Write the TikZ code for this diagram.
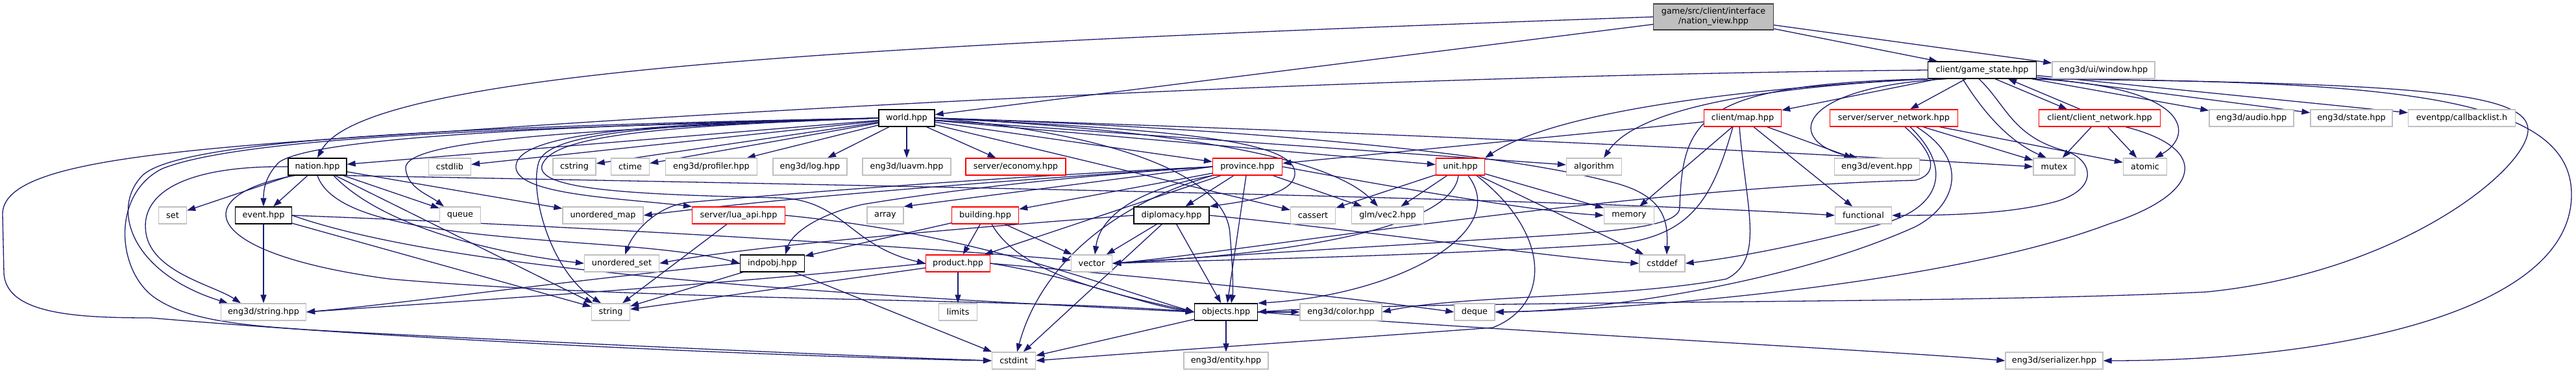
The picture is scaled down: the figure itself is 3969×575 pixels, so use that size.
\documentclass[tikz,border=0pt]{standalone}
\usepackage{fontspec}
\newfontfamily\dvs{DejaVu Sans}
\usetikzlibrary{arrows.meta}
\pgfdeclarelayer{bg}
\pgfsetlayers{bg,main}
\definecolor{edgec}{RGB}{25,25,112}
\definecolor{extg}{RGB}{191,191,191}
\definecolor{rootf}{RGB}{191,191,191}
\definecolor{rootd}{RGB}{64,64,64}
\begin{document}
\begin{tikzpicture}[x=1pt,y=-1pt,
 base/.style={rectangle, fill=white, line width=1.3pt, minimum height=26pt, inner sep=0pt, font=\dvs\fontsize{12.8pt}{15pt}\selectfont},
 ext/.style={base, draw=extg},
 doc/.style={base, draw=black},
 trc/.style={base, draw=red},
 rt/.style={base, draw=rootd, fill=rootf, minimum height=40pt, align=center},
 e/.style={draw=edgec, line width=1.3pt, -{Triangle[length=13pt,width=9pt]}}]
\path[use as bounding box] (0,0) rectangle (3969,575);
% nodes
\node[rt, minimum width=185pt] (root) at (2640,26) {game/src/client/interface\\/nation\_view.hpp};
\node[doc, minimum width=167pt] (gs) at (3054,108) {client/game\_state.hpp};
\node[ext, minimum width=158pt] (win) at (3241,108) {eng3d/ui/window.hpp};
\node[doc, minimum width=86pt] (world) at (1397,182) {world.hpp};
\node[trc, minimum width=119pt] (map) at (2685,182) {client/map.hpp};
\node[trc, minimum width=197pt] (snet) at (2918,182) {server/server\_network.hpp};
\node[trc, minimum width=187pt] (cnet) at (3235,182) {client/client\_network.hpp};
\node[ext, minimum width=130pt] (audio) at (3469,182) {eng3d/audio.hpp};
\node[ext, minimum width=126pt] (state) at (3623,182) {eng3d/state.hpp};
\node[ext, minimum width=165pt] (cbl) at (3793,182) {eventpp/callbacklist.h};
\node[doc, minimum width=90pt] (nation) at (489,257) {nation.hpp};
\node[ext, minimum width=65pt] (cstdlib) at (693,257) {cstdlib};
\node[ext, minimum width=66pt] (cstring) at (885,257) {cstring};
\node[ext, minimum width=59pt] (ctime) at (971,257) {ctime};
\node[ext, minimum width=141pt] (prof) at (1096,257) {eng3d/profiler.hpp};
\node[ext, minimum width=114pt] (log) at (1248,257) {eng3d/log.hpp};
\node[ext, minimum width=136pt] (luavm) at (1397,257) {eng3d/luavm.hpp};
\node[trc, minimum width=154pt] (econ) at (1565,257) {server/economy.hpp};
\node[trc, minimum width=107pt] (prov) at (1922,257) {province.hpp};
\node[trc, minimum width=75pt] (unit) at (2250,257) {unit.hpp};
\node[ext, minimum width=85pt] (algo) at (2456,257) {algorithm};
\node[ext, minimum width=131pt] (eevent) at (2892,257) {eng3d/event.hpp};
\node[ext, minimum width=64pt] (mutex) at (3165,257) {mutex};
\node[ext, minimum width=67pt] (atomic) at (3305,257) {atomic};
\node[ext, minimum width=43pt] (set) at (266,332) {set};
\node[doc, minimum width=87pt] (event) at (406,332) {event.hpp};
\node[ext, minimum width=63pt] (queue) at (709,332) {queue};
\node[ext, minimum width=124pt] (umap) at (929,332) {unordered\_map};
\node[trc, minimum width=143pt] (lua) at (1138,332) {server/lua\_api.hpp};
\node[ext, minimum width=56pt] (array) at (1364,332) {array};
\node[trc, minimum width=103pt] (bld) at (1518,332) {building.hpp};
\node[doc, minimum width=116pt] (dipl) at (1805,332) {diplomacy.hpp};
\node[ext, minimum width=69pt] (cassert) at (2023,332) {cassert};
\node[ext, minimum width=111pt] (vec2) at (2138,332) {glm/vec2.hpp};
\node[ext, minimum width=77pt] (memory) at (2510,332) {memory};
\node[ext, minimum width=87pt] (func) at (2871,332) {functional};
\node[ext, minimum width=115pt] (uset) at (958,406) {unordered\_set};
\node[doc, minimum width=99pt] (indp) at (1190,406) {indpobj.hpp};
\node[trc, minimum width=99pt] (prod) at (1476,406) {product.hpp};
\node[ext, minimum width=63pt] (vector) at (1682,406) {vector};
\node[ext, minimum width=70pt] (cstddef) at (2561,406) {cstddef};
\node[ext, minimum width=131pt] (estr) at (406,481) {eng3d/string.hpp};
\node[ext, minimum width=59pt] (string) at (941,481) {string};
\node[ext, minimum width=59pt] (limits) at (1476,481) {limits};
\node[doc, minimum width=97pt] (obj) at (1889,481) {objects.hpp};
\node[ext, minimum width=126pt] (color) at (2066,481) {eng3d/color.hpp};
\node[ext, minimum width=62pt] (deque) at (2272,481) {deque};
\node[ext, minimum width=67pt] (cstdint) at (1562,556) {cstdint};
\node[ext, minimum width=130pt] (entity) at (1889,556) {eng3d/entity.hpp};
\node[ext, minimum width=150pt] (ser) at (3165,556) {eng3d/serializer.hpp};
\begin{pgfonlayer}{bg}
% root
\draw[e] (root) -- (gs);
\draw[e] (root) -- (win);
\draw[e] (root) -- (world);
\draw[e] (root.west) .. controls (1300,70) and (560,110) .. (nation.north);
% game_state
\draw[e] (gs) -- (map);
\draw[e] (gs) -- (snet);
\draw[e] ([xshift=20pt]gs.south) -- ([xshift=-50pt]cnet.north);
\draw[e] ([xshift=-30pt]cnet.north) -- ([xshift=40pt]gs.south);
\draw[e] ([xshift=-55pt]gs.south) .. controls (2760,135) and (2750,220) .. ([xshift=-30pt]eevent.north);
\draw[e] ([xshift=-30pt]gs.south) .. controls (3060,180) and (3100,220) .. ([xshift=-12pt]mutex.north);
\draw[e] ([xshift=-5pt]gs.south) .. controls (3090,160) and (3100,210) .. (3180,232) .. controls (3225,245) and (3235,290) .. (3170,310) .. controls (3100,330) and (3000,332) .. (func.east);
\draw[e] (gs.south east) .. controls (3380,135) and (3380,210) .. ([xshift=15pt]atomic.north);
\draw[e] (gs) -- (audio);
\draw[e] (gs) -- (state);
\draw[e] (gs) -- (cbl);
\draw[e] (gs.south west) .. controls (2700,135) and (2400,170) .. (unit.north east);
\draw[e] (gs.south west) .. controls (2700,135) and (2520,170) .. ([xshift=15pt]algo.north);
\draw[e] (gs.south west) .. controls (2620,130) and (2592,180) .. (2588,320) .. controls (2588,360) and (2400,360) .. (2200,375) .. controls (1950,390) and (1800,400) .. (vector.east);
\draw[e] (gs.west) .. controls (2200,115) and (1300,160) .. (700,202) .. controls (250,230) and (4,250) .. (4,330) -- (6,420) .. controls (8,485) and (120,490) .. (232,490) .. controls (700,530) and (1300,552) .. (cstdint.west);
\draw[e] (gs.south east) .. controls (3700,125) and (3962,150) .. (3962,300) .. controls (3962,480) and (3600,556) .. (ser.east);
\draw[e] (gs.south east) .. controls (3700,128) and (3895,140) .. (3895,200) .. controls (3895,260) and (3700,420) .. (3400,450) .. controls (3000,470) and (2200,462) .. (obj.east);
% client network
\draw[e] (cnet) -- (mutex);
\draw[e] (cnet) -- (atomic);
\draw[e] ([xshift=40pt]cnet.south) .. controls (3410,230) and (3390,300) .. (3250,345) .. controls (3000,440) and (2500,478) .. (deque.east);
% server network
\draw[e] (snet) -- (mutex);
\draw[e] (snet) -- (atomic);
\draw[e] ([xshift=17pt]snet.south) .. controls (2985,240) and (2985,270) .. (2950,278) .. controls (2500,290) and (1900,390) .. (vector.east);
\draw[e] ([xshift=25pt]snet.south) .. controls (3010,260) and (2990,320) .. (2900,345) .. controls (2750,385) and (2650,400) .. (cstddef.east);
\draw[e] ([xshift=35pt]snet.south) .. controls (3040,250) and (3010,320) .. (2950,350) .. controls (2750,440) and (2450,480) .. (deque.east);
% map
\draw[e] (map) -- (prov);
\draw[e] (map) -- (memory);
\draw[e] (map) -- (eevent);
\draw[e] (map) -- (func);
\draw[e] ([xshift=-5pt]map.south) .. controls (2690,320) and (2720,400) .. (2660,430) .. controls (2500,460) and (2250,455) .. (color.east);
\draw[e] ([xshift=-15pt]map.south) .. controls (2640,300) and (2610,360) .. (2500,375) .. controls (2200,395) and (1900,400) .. (vector.east);
% world
\draw[e] (world) -- (nation);
\draw[e] (world) -- (cstdlib);
\draw[e] (world) -- (cstring);
\draw[e] (world) -- (ctime);
\draw[e] (world) -- (prof);
\draw[e] (world) -- (log);
\draw[e] (world) -- (luavm);
\draw[e] (world) -- (econ);
\draw[e] (world.west) .. controls (800,195) and (480,215) .. (430,250) .. controls (410,270) and (406,290) .. (event.north);
\draw[e] (world.west) .. controls (900,200) and (620,215) .. (625,260) .. controls (628,290) and (660,300) .. ([xshift=-25pt]queue.north);
\draw[e] (world.west) .. controls (700,195) and (280,215) .. (220,270) .. controls (170,320) and (200,420) .. ([xshift=-55pt]estr.north);
\draw[e] (world.west) .. controls (1000,195) and (400,200) .. (250,260) .. controls (170,300) and (180,420) .. (240,460) .. controls (300,500) and (400,505) .. (600,515) .. controls (1000,535) and (1350,550) .. (cstdint.west);
\draw[e] (world.west) .. controls (1000,192) and (845,205) .. (830,250) .. controls (815,300) and (850,420) .. ([xshift=-15pt]string.north);
\draw[e] (world.west) .. controls (1000,190) and (800,205) .. (795,255) .. controls (790,300) and (950,305) .. (lua.north west);
\draw[e] (world.west) .. controls (1000,195) and (850,210) .. (835,255) .. controls (825,295) and (1000,300) .. (1200,305) .. controls (1300,308) and (1310,380) .. (prod.west);
\draw[e] (world) -- (prov);
\draw[e] (world) -- (unit);
\draw[e] (world) -- (algo);
\draw[e] (world.east) .. controls (2000,200) and (2700,230) .. (mutex.west);
\draw[e] (world.east) .. controls (2000,200) and (2350,245) .. (2480,280) .. controls (2565,300) and (2570,340) .. ([xshift=7pt]cstddef.north);
\draw[e] (world.east) .. controls (1800,200) and (2050,240) .. ([xshift=-15pt]vec2.north);
\draw[e] (world) -- (cassert);
\draw[e] (world.east) .. controls (1800,200) and (1990,215) .. (1995,265) .. controls (1998,300) and (1920,310) .. (dipl.north east);
\draw[e] (world.east) .. controls (1750,210) and (1890,280) .. (1895,360) .. controls (1900,420) and (1900,450) .. ([xshift=8pt]obj.north);
% nation
\draw[e] (nation) -- (set);
\draw[e] (nation) -- (event);
\draw[e] (nation) -- (queue);
\draw[e] (nation) -- (umap);
\draw[e] (nation) -- (string);
\draw[e] (nation.south) .. controls (515,345) and (700,360) .. (900,375) .. controls (1000,382) and (1080,390) .. (indp.west);
\draw[e] ([xshift=25pt]nation.south) .. controls (600,360) and (800,395) .. (uset.west);
\draw[e] ([xshift=-35pt]nation.south) .. controls (290,300) and (300,390) .. (600,430) .. controls (1000,465) and (1600,460) .. (obj.west);
\draw[e] (nation.west) .. controls (280,255) and (215,300) .. (225,360) .. controls (235,420) and (330,440) .. ([xshift=-35pt]estr.north);
\draw[e] (nation.south east) .. controls (1300,285) and (2400,305) .. (func.west);
% event
\draw[e] (event) -- (estr);
\draw[e] (event) -- (string);
\draw[e] (event.east) .. controls (800,345) and (1300,372) .. ([yshift=5pt]vector.west);
\draw[e] (event.east) .. controls (700,420) and (1300,455) .. (obj.west);
% lua
\draw[e] (lua) -- (string);
\draw[e] (lua.east) .. controls (1500,360) and (1700,440) .. (obj.west);
% province
\draw[e] (prov) -- (dipl);
\draw[e] (prov) -- (obj);
\draw[e] (prov) -- (bld);
\draw[e] (prov) -- (prod);
\draw[e] (prov.west) -- (array.north east);
\draw[e] (prov.south west) .. controls (1760,290) and (1695,330) .. ([xshift=5pt]vector.north);
\draw[e] (prov.south west) .. controls (1700,320) and (1600,420) .. ([xshift=5pt]cstdint.north);
\draw[e] (prov.west) .. controls (1600,275) and (1250,300) .. (umap.east);
\draw[e] (prov.west) .. controls (1500,275) and (1200,300) .. (1060,312) .. controls (1010,318) and (975,360) .. ([xshift=5pt]uset.north);
\draw[e] (prov.west) .. controls (1600,275) and (1420,300) .. (1330,315) .. controls (1260,330) and (1220,360) .. ([xshift=20pt]indp.north);
\draw[e] (prov.east) .. controls (2100,280) and (2350,325) .. (memory.west);
\draw[e] (prov) -- (vec2);
% unit
\draw[e] (unit) -- (cassert);
\draw[e] (unit) -- (vec2);
\draw[e] (unit) -- (memory);
\draw[e] (unit) -- (cstddef);
\draw[e] ([xshift=25pt]unit.south) .. controls (2390,360) and (2390,470) .. (2300,505) .. controls (2100,520) and (1800,540) .. (cstdint.east);
\draw[e] ([xshift=-3pt]unit.south) .. controls (2240,330) and (2100,385) .. (vector.east);
\draw[e] ([xshift=12pt]unit.south) .. controls (2330,360) and (2150,455) .. (obj.north east);
% diplomacy
\draw[e] (dipl) -- (vector);
\draw[e] (dipl) -- (cstdint);
\draw[e] (dipl) -- (obj);
\draw[e] (dipl.east) .. controls (2100,355) and (2400,398) .. (cstddef.west);
\draw[e] (dipl.west) .. controls (1500,350) and (1150,380) .. (uset.east);
% building
\draw[e] (bld) -- (prod);
\draw[e] (bld) -- (vector);
\draw[e] ([xshift=10pt]bld.south) .. controls (1570,420) and (1700,450) .. (obj.west);
\draw[e] (bld) -- (indp);
% product
\draw[e] (prod) -- (limits);
\draw[e] (prod.east) .. controls (1650,425) and (1760,470) .. (obj.west);
\draw[e] (prod.east) .. controls (1800,430) and (2050,455) .. (deque.west);
\draw[e] (prod.west) .. controls (1100,440) and (700,465) .. (estr.east);
\draw[e] (prod) -- (string);
% indpobj
\draw[e] (indp) -- (string);
\draw[e] (indp.west) .. controls (900,430) and (600,470) .. (estr.east);
\draw[e] (indp) -- (cstdint);
% objects
\draw[e] (obj) -- (entity);
\draw[e] (obj) -- (cstdint);
\draw[e] (obj) -- (color);
\draw[e] (obj.east) .. controls (2300,510) and (2900,540) .. (ser.west);
\end{pgfonlayer}
\end{tikzpicture}
\end{document}
